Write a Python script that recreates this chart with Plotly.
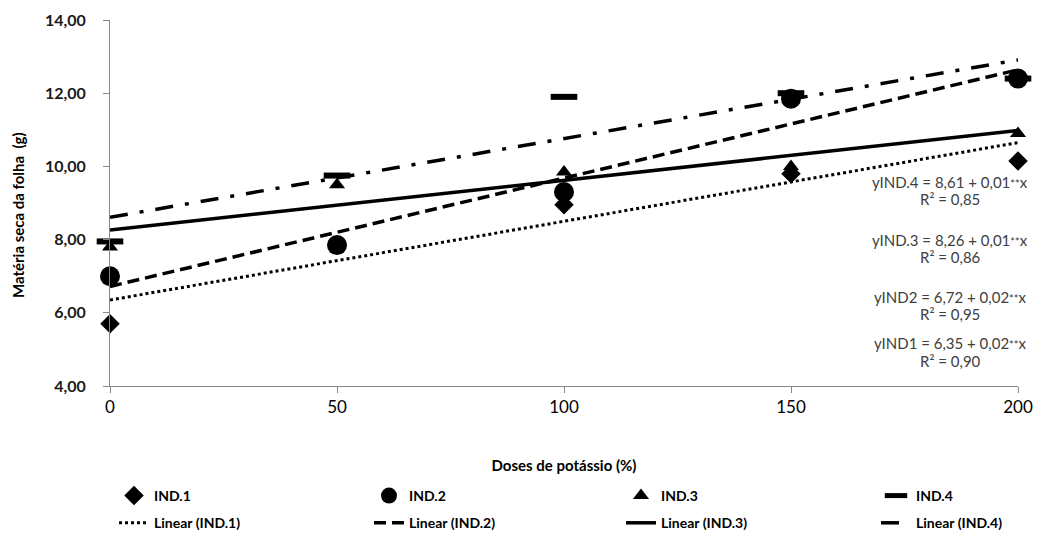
import plotly.graph_objects as go

# Potassium doses (% of recommendation)
doses = [0, 50, 100, 150, 200]

# Leaf dry matter (g) per genotype
ind1 = [5.70, 7.85, 8.95, 9.80, 10.15]
ind2 = [7.00, 7.85, 9.30, 11.85, 12.40]
ind3 = [7.80, 9.50, 9.85, 10.00, 10.90]
ind4 = [7.95, 9.75, 11.90, 12.00, 12.40]

names = ["IND.1", "IND.2", "IND.3", "IND.4"]
eq_names = ["yIND1", "yIND2", "yIND.3", "yIND.4"]

# Linear fits: intercept, slope, R²
intercepts = [6.35, 6.72, 8.26, 8.61]
slopes = [0.0215, 0.0296, 0.0136, 0.0215]
r2 = [0.90, 0.95, 0.86, 0.85]
# Slope coefficients as printed in the equations
slope_text = [0.02, 0.02, 0.01, 0.01]

series = [ind1, ind2, ind3, ind4]
symbols = ["diamond", "circle", "triangle-up", "line-ew"]
sizes = [15, 20, 14, 19]
dash_styles = ["dot", "12px,6px", "solid", "18px,12px,4px,12px"]
widths = [3, 3.5, 3.5, 3.5]

legend_ids = ["legend", "legend2", "legend3", "legend4"]
legend_x = [114, 369, 621, 876]

fig = go.Figure()

# Trend lines
x_line = [0, 200]
for i in range(4):
    y_line = [intercepts[i] + slopes[i] * x for x in x_line]
    fig.add_trace(go.Scatter(
        x=x_line, y=y_line, mode="lines",
        name=f"Linear ({names[i]})",
        line=dict(color="black", width=widths[i], dash=dash_styles[i]),
        legend=legend_ids[i], legendgroup=f"lin{i}", legendrank=2,
        cliponaxis=False,
    ))

# Observed values (IND.4 underneath the other markers)
for i in [3, 0, 1, 2]:
    marker = dict(symbol=symbols[i], size=sizes[i], color="black")
    if symbols[i] == "line-ew":
        marker = dict(symbol="line-ew", size=sizes[i], color="black",
                      line=dict(color="black", width=6))
    fig.add_trace(go.Scatter(
        x=doses, y=series[i], mode="markers", name=names[i],
        marker=marker, legend=legend_ids[i], legendgroup=f"obs{i}",
        legendrank=1, cliponaxis=False,
    ))

# Regression equations
eq_pos = [(343, 361), (297, 314), (240, 257), (182, 199)]
eq_font = dict(family="Lato", size=15, color="#404040")
for i in range(4):
    a = f"{intercepts[i]:.2f}".replace(".", ",")
    b = f"{slope_text[i]:.2f}".replace(".", ",")
    rr = f"{r2[i]:.2f}".replace(".", ",")
    y_eq, y_r = eq_pos[i]
    fig.add_annotation(
        text=f"{eq_names[i]} = {a} + {b}<span style='font-size:11px'>**</span>x",
        xref="paper", yref="paper", x=(950 - 110) / 908, y=(386 - y_eq) / 366,
        xanchor="center", yanchor="middle", showarrow=False, font=eq_font,
    )
    fig.add_annotation(
        text=f"R² = {rr}",
        xref="paper", yref="paper", x=(950 - 110) / 908, y=(386 - y_r) / 366,
        xanchor="center", yanchor="middle", showarrow=False, font=eq_font,
    )

# Y-axis title
fig.add_annotation(
    text="Matéria seca da folha  (g)", textangle=-90,
    xref="paper", yref="paper", x=(18 - 110) / 908, y=(386 - 215) / 366,
    xanchor="center", yanchor="middle", showarrow=False,
    font=dict(family="Lato", size=15, color="black", weight="bold"),
)

axis_col = "#868686"
legend_font = dict(family="Lato", size=14, weight="bold", color="black")
legends = {}
for i, lid in enumerate(legend_ids):
    legends[lid] = dict(
        orientation="v", xref="container", yref="container",
        x=legend_x[i] / 1043, y=1 - 480 / 536, xanchor="left", yanchor="top",
        font=legend_font, tracegroupgap=6, traceorder="grouped",
        bgcolor="rgba(0,0,0,0)",
    )

fig.update_layout(
    width=1043, height=536,
    margin=dict(l=110, r=25, t=20, b=150, autoexpand=False),
    paper_bgcolor="white", plot_bgcolor="white",
    separators=",.",
    font=dict(family="Lato", color="black"),
    xaxis=dict(
        range=[0, 200], tickvals=doses, showgrid=False, zeroline=False,
        showline=True, linecolor=axis_col, linewidth=1,
        ticks="outside", ticklen=6, tickcolor=axis_col,
        tickfont=dict(family="Lato", size=17, color="black"),
        title=dict(text="Doses de potássio (%)", standoff=44,
                   font=dict(family="Lato", size=15, color="black", weight="bold")),
    ),
    yaxis=dict(
        range=[4, 14], dtick=2, tickformat=".2f", showgrid=False, zeroline=False,
        showline=True, linecolor=axis_col, linewidth=1,
        ticks="outside", ticklen=6, tickcolor=axis_col, ticklabelstandoff=14,
        tickfont=dict(family="Lato", size=16, color="#1a1a1a", weight="bold"),
    ),
    showlegend=True,
    **legends,
)

fig.write_html("out.html")
